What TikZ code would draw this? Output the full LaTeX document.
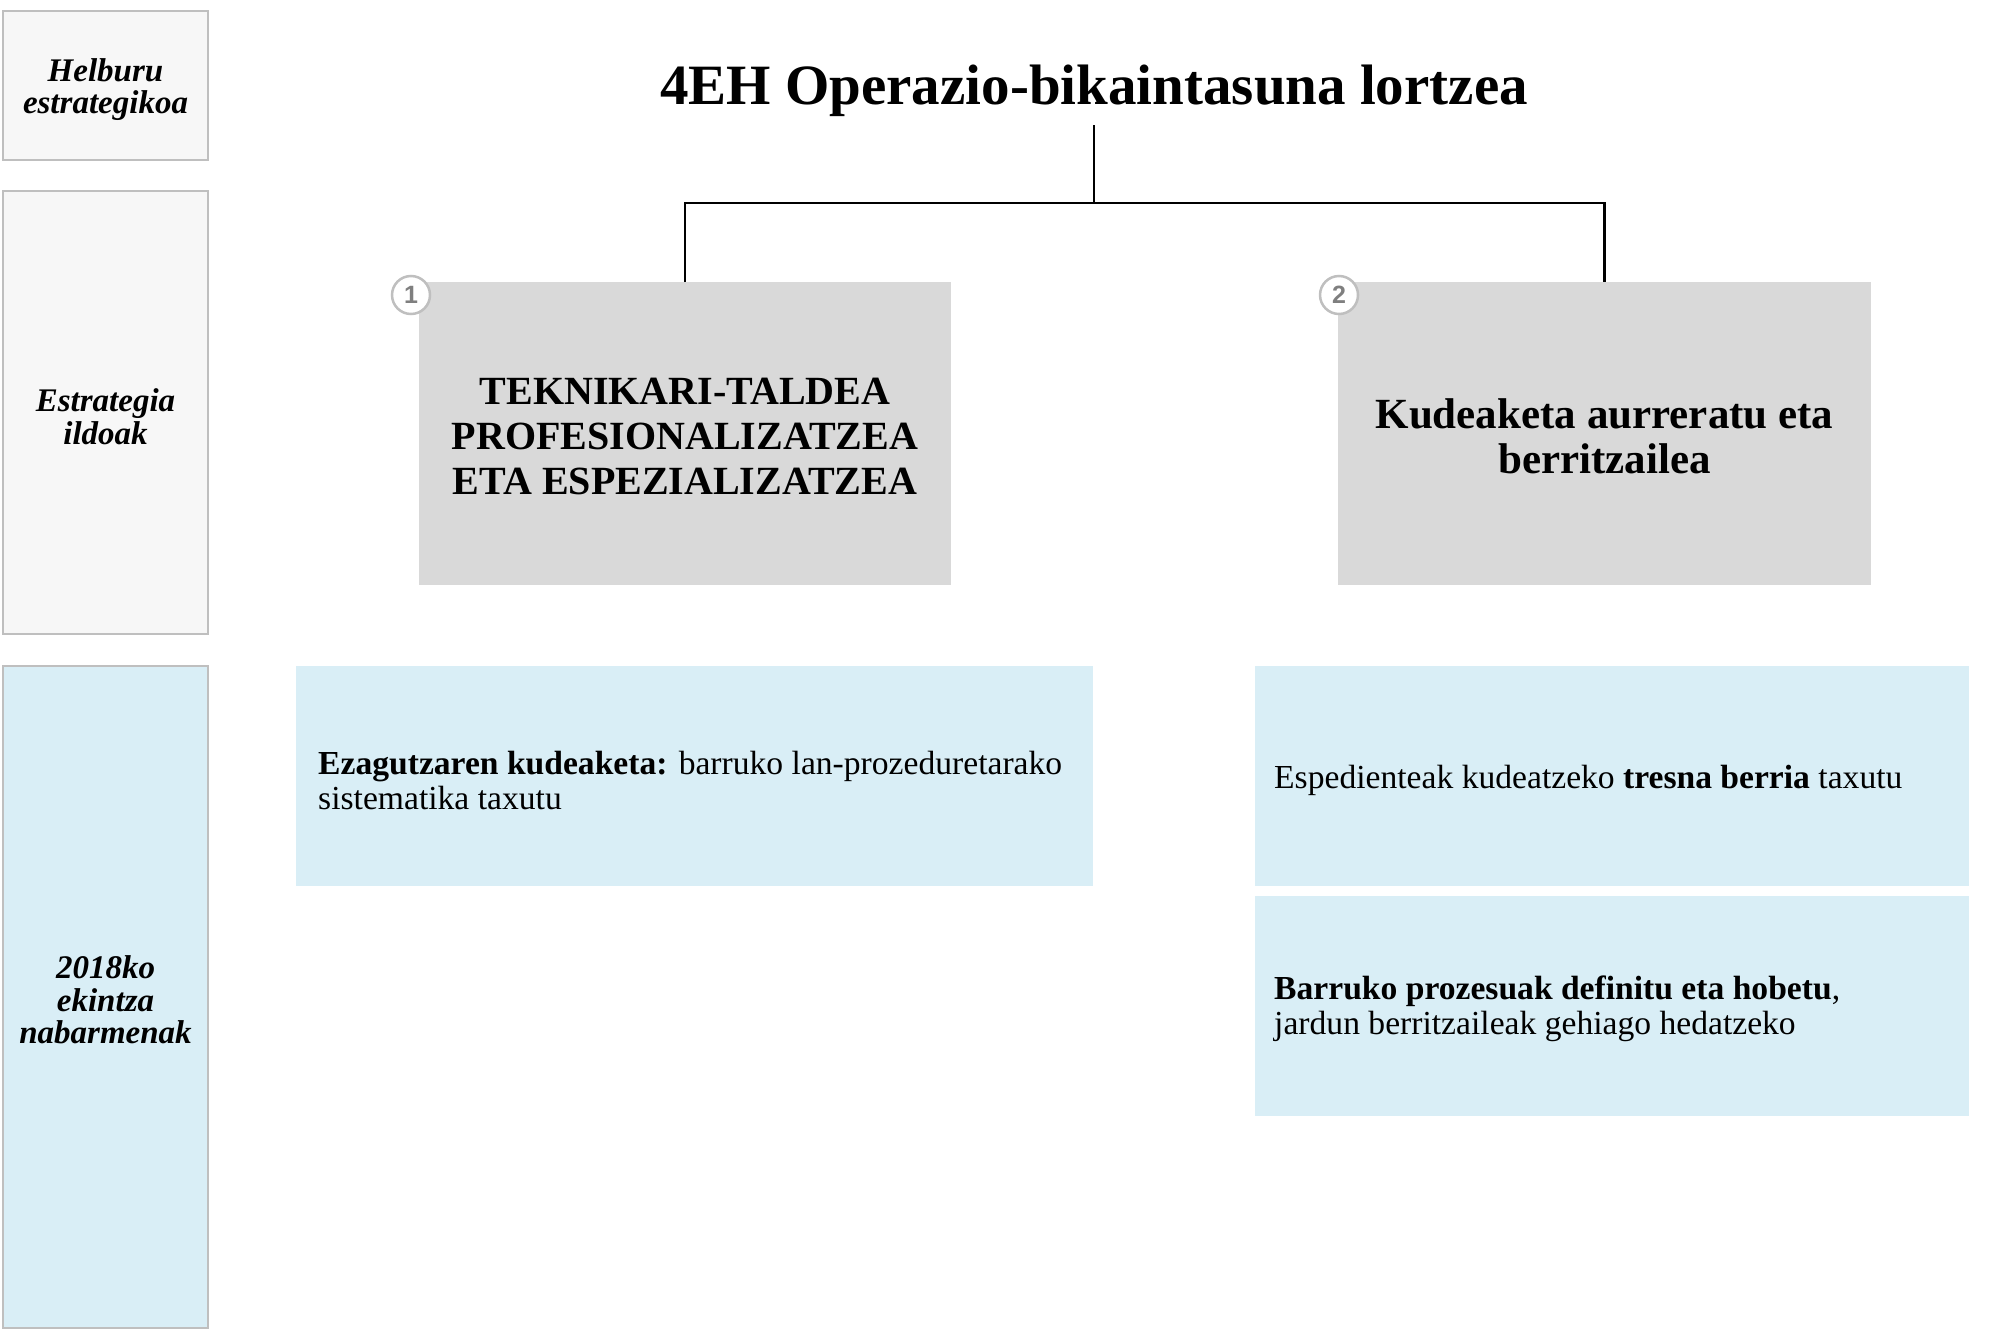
\documentclass[tikz,border=0pt]{standalone}
\usepackage{fontspec}
\setmainfont{Liberation Serif}
\newfontfamily\numfont{Liberation Sans}
\definecolor{lblfill}{HTML}{F7F7F7}
\definecolor{lblborder}{HTML}{BFBFBF}
\definecolor{boxgray}{HTML}{D9D9D9}
\definecolor{boxblue}{HTML}{D9EEF6}
\definecolor{numgray}{HTML}{7F7F7F}
\begin{document}
\begin{tikzpicture}[x=1pt,y=-1pt,
  lbl/.style={draw=lblborder, line width=2pt, fill=lblfill, inner sep=0pt, outer sep=0pt,
    anchor=north west, minimum width=205pt},
  lbltext/.style={align=center, inner sep=0pt, font=\fontsize{33}{32.5}\selectfont\bfseries\itshape},
  gbox/.style={fill=boxgray, inner sep=0pt, outer sep=0pt, anchor=north west, minimum height=303pt},
  gtext/.style={align=center, inner sep=0pt, font=\fontsize{40}{45}\selectfont\bfseries},
  bbox/.style={fill=boxblue, inner sep=0pt, outer sep=0pt, anchor=north west, minimum height=220pt},
  btext/.style={anchor=west, align=left, inner sep=0pt, font=\fontsize{33.6}{35}\selectfont},
  numc/.style={circle, draw=lblborder, line width=2.5pt, fill=white, minimum size=38pt, inner sep=0pt,
    text=numgray, font=\numfont\fontsize{25}{25}\selectfont\bfseries},
  conn/.style={line width=2.5pt, black}]
\useasboundingbox (0,0) rectangle (2004,1330);

% left labels
\node[lbl, minimum height=149pt] (l1) at (3,11) {};
\node[lbl, minimum height=443pt] (l2) at (3,191) {};
\node[lbl, fill=boxblue, minimum height=662pt] (l3) at (3,666) {};
\node[lbltext] (l1t) at ([yshift=-4pt]l1.center) {Helburu\\estrategikoa};
\node[lbltext] (l2t) at ([yshift=-4pt]l2.center) {Estrategia\\ildoak};
\node[lbltext] (l3t) at ([yshift=-3pt]l3.center) {2018ko\\ekintza\\nabarmenak};

% title
\node[font=\fontsize{57}{60}\selectfont\bfseries, inner sep=0pt] (t) at (1094,91) {4EH Operazio-bikaintasuna lortzea};
\coordinate (tb) at (1094,125);
\coordinate (j) at (1094,203);

% strategy boxes
\node[gbox, minimum width=532pt] (g1) at (419,282) {};
\node[gbox, minimum width=533pt] (g2) at (1338,282) {};
\node[gtext] (g1t) at ([yshift=-3pt]g1.center) {TEKNIKARI-TALDEA\\PROFESIONALIZATZEA\\ETA ESPEZIALIZATZEA};
\node[gtext, font=\fontsize{43}{45}\selectfont\bfseries] (g2t) at ([yshift=-3pt]g2.center) {Kudeaketa aurreratu eta\\berritzailea};

\draw[conn] (tb) -- (j);
\draw[conn] (g1.north) |- (j) -| (g2.north);

\node[numc] (c1) at (411,295) {1};
\node[numc] (c2) at (1339,295) {2};

% action boxes
\node[bbox, minimum width=797pt] (b1) at (296,666) {};
\node[bbox, minimum width=714pt] (b2) at (1255,666) {};
\node[bbox, minimum width=714pt] (b3) at (1255,896) {};

\node[btext] (x1) at ([xshift=22pt,yshift=-4pt]b1.west) {\textbf{Ezagutzaren kudeaketa:} barruko lan-prozeduretarako\\sistematika taxutu};
\node[btext] (x2) at ([xshift=19pt,yshift=-4pt]b2.west) {Espedienteak kudeatzeko \textbf{tresna berria} taxutu};
\node[btext] (x3) at ([xshift=19pt,yshift=-3pt]b3.west) {\textbf{Barruko prozesuak definitu eta hobetu},\\jardun berritzaileak gehiago hedatzeko};
\end{tikzpicture}
\end{document}
